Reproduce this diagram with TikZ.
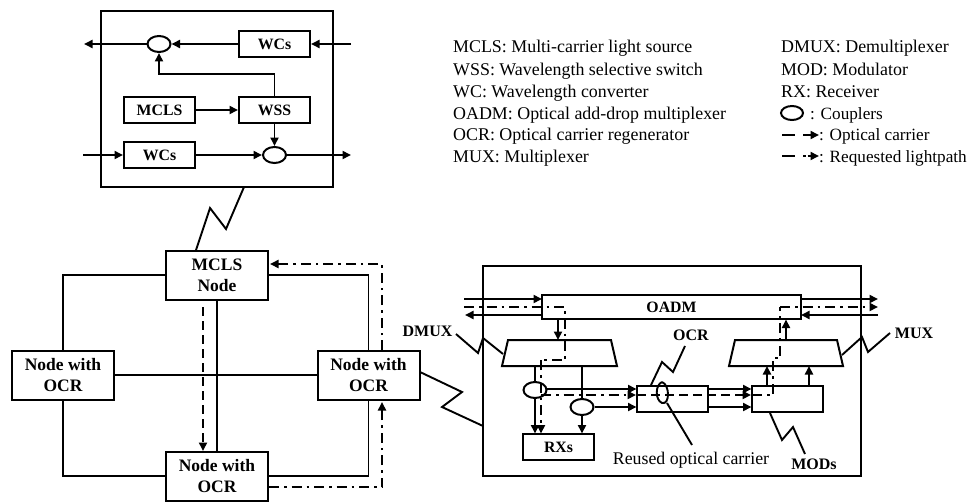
\documentclass[tikz,border=0pt]{standalone}
\usepackage{fontspec}
\setmainfont{Liberation Serif}
\usetikzlibrary{arrows.meta,shapes.geometric}
\tikzset{
  box/.style={draw,line width=2pt,inner sep=0pt,minimum width=#1,minimum height=26pt,
    font=\fontsize{15.8}{20}\selectfont\bfseries,align=center},
  box/.default=71pt,
  netnode/.style={box=102pt,minimum height=49pt,font=\fontsize{17.5}{21}\selectfont\bfseries},
  coupler/.style={draw,line width=2pt,ellipse,inner sep=0pt,minimum width=23pt,minimum height=16pt},
  trap/.style={line width=2pt,line join=miter},
  link/.style={line width=1.9pt},
  sig/.style={link,-{Triangle[length=8.5pt,width=8pt]}},
  carrier/.style={sig,dash pattern=on 9pt off 5pt},
  lightpath/.style={sig,dash pattern=on 10pt off 5pt on 2.5pt off 5pt},
  legtext/.style={anchor=base west,inner sep=0pt,font=\fontsize{17.9}{20}\selectfont},
  legsmall/.style={legtext,font=\fontsize{17.2}{20}\selectfont},
  tag/.style={inner sep=0pt,font=\fontsize{16}{18}\selectfont\bfseries}
}
\begin{document}
\begin{tikzpicture}[x=1pt,y=-1pt]
    \useasboundingbox (0,0) rectangle (969,503);

    % ------ ROADM detail, top ------
    \node[box=232pt,minimum height=176pt] (top) at (217,99) {};
    \node[box] (wcsUp) at (274.5,44) {WCs};
    \node[box] (mclsIn) at (159.5,110) {MCLS};
    \node[box] (wss) at (274.5,110) {WSS};
    \node[box] (wcsLow) at (159.5,155) {WCs};
    \node[coupler] (cplUp) at (159,44) {};
    \node[coupler] (cplLow) at (274.5,155) {};
    \coordinate (outUp) at (84,44);
    \coordinate (inUp) at (351,44);
    \coordinate (inLow) at (83,155);
    \coordinate (outLow) at (351,155);
    \coordinate (bendUp) at (274.5,74);

    \draw[sig] (cplUp.west) -- (outUp);
    \draw[sig] (wcsUp.west) -- (cplUp.east);
    \draw[sig] (inUp) -- (wcsUp.east);
    \draw[sig] (wss.north) -- (bendUp) -| (cplUp.south);
    \draw[sig] (mclsIn.east) -- (wss.west);
    \draw[sig] (wss.south) -- (cplLow.north);
    \draw[sig] (inLow) -- (wcsLow.west);
    \draw[sig] (wcsLow.east) -- (cplLow.west);
    \draw[sig] (cplLow.east) -- (outLow);

    % ------ Four node network ------
    \node[netnode] (mcls) at (217,275) {MCLS\\Node};
    \node[netnode] (left) at (63,375) {Node with\\OCR};
    \node[netnode] (right) at (368.5,375) {Node with\\OCR};
    \node[netnode] (bottom) at (217,476) {Node with\\OCR};

    \draw[link] (mcls.west) -| (left.north);
    \draw[link] (mcls.east) -| (right.north);
    \draw[link] (bottom.west) -| (left.south);
    \draw[link] (bottom.east) -| (right.south);
    \draw[link] (mcls.south) -- (bottom.north);
    \draw[link] (left.east) -- (right.west);

    \coordinate (dashTop) at (203,307);
    \coordinate (dashEnd) at (203,451);
    \coordinate (lpA) at (269,487);
    \coordinate (lpB) at (382,402);
    \coordinate (lpC) at (382,350);
    \coordinate (lpD) at (270,264);
    \draw[carrier] (dashTop) -- (dashEnd);
    \draw[lightpath] (lpA) -- (382,487) -- (lpB);
    \draw[lightpath] (lpC) -- (382,264) -- (lpD);

    % ------ Node with OCR detail, right ------
    \node[box=378pt,minimum height=210pt] (detail) at (672,371) {};
    \node[box=259pt,minimum height=24pt] (oadm) at (671.5,307) {OADM};
    \draw[trap] (508,340) -- (611,340) -- (617,366) -- (502,366) -- cycle;  % DMUX
    \draw[trap] (735,340) -- (837,340) -- (843,366) -- (729,366) -- cycle;  % MUX
    \node[coupler] (cplA) at (535,390) {};
    \node[coupler] (cplB) at (582,407) {};
    \node[box] (rxs) at (558.5,447) {RXs};
    \node[box] (ocr) at (672,399) {};
    \node[box] (mods) at (787.5,399) {};

    \coordinate (inA) at (464,299);   \coordinate (oadmA) at (542,299);
    \coordinate (oadmB) at (542,315); \coordinate (outB) at (465,315);
    \coordinate (oadmC) at (801,299); \coordinate (outC) at (878,299);
    \coordinate (inD) at (878,315);   \coordinate (oadmD) at (801,315);

    \draw[sig] (inA) -- (oadmA);
    \draw[sig] (oadmB) -- (outB);
    \draw[sig] (oadmC) -- (outC);
    \draw[sig] (inD) -- (oadmD);
    \draw[sig] (558,319) -- (558,340);
    \draw[sig] (786,340) -- (786,319.5);
    \draw[sig] (767,386) -- (767,366);
    \draw[sig] (809,386) -- (809,366);

    \draw[link] (535,366) -- (cplA.north);
    \draw[link] (582,366) -- (cplB.north);
    \draw[sig] (cplA.south) -- (535,433.5);
    \draw[sig] (cplB.south) -- (582,433.5);
    \draw[sig] (546,389) -- (636.5,389);
    \draw[sig] (cplB.east) -- (636.5,407);
    \draw[sig] (707,389) -- (751.5,389);
    \draw[sig] (707,407) -- (751.5,407);

    % requested lightpath and reused carrier
    \draw[lightpath,-] (464,307) -- (565,307) -- (565,360) -- (541,360);
    \draw[lightpath] (541,360) -- (541,433.5);
    \draw[lightpath] (541,395) -- (636,395);
    \draw[carrier] (637,395) -- (751,395);
    \draw[lightpath,-] (752,395) -- (773,395) -- (773,358) -- (780,358) -- (780,307);
    \draw[lightpath] (780,307) -- (878,307);

    % zigzags
    \coordinate (zTop) at (244,187);    \coordinate (zMcls) at (196,250);
    \coordinate (zRight) at (420,372);  \coordinate (zDetail) at (483,426);
    \coordinate (zDmuxA) at (456,334);  \coordinate (zDmuxB) at (503,354);
    \coordinate (zMuxA) at (842,355);   \coordinate (zMuxB) at (890,333);
    \coordinate (zOcrA) at (651,385);   \coordinate (zOcrB) at (685,346);
    \coordinate (zModA) at (770,413);   \coordinate (zModB) at (805,454);
    \draw[link] (zTop) -- (226,229) -- (210,208) -- (zMcls);
    \draw[link] (zRight) -- (462,392) -- (442,407) -- (zDetail);
    \draw[link] (zDmuxA) -- (478,353) -- (483,338) -- (zDmuxB);
    \draw[link] (zMuxA) -- (862,337) -- (868,352) -- (zMuxB);
    \draw[link] (zOcrA) -- (662,362) -- (673,372) -- (zOcrB);
    \draw[link] (zModA) -- (782,440) -- (793,427) -- (zModB);
    \draw[link] (662,382) .. controls (655,385) and (655,400) .. (662,403) .. controls (670,405) and (670,385) .. (662,382);
    \draw[link] (667,403) -- (692,445);

    \node[tag] (tagDmux) at (427.5,331) {DMUX};
    \node[tag] (tagOcr) at (691,335) {OCR};
    \node[tag] (tagMux) at (914,333) {MUX};
    \node[tag] (tagMods) at (814,464) {MODs};
    \node[inner sep=0pt,font=\fontsize{17.8}{20}\selectfont] (tagReused) at (691,460) {Reused optical carrier};

    % ------ Legend ------
    \node[legtext] (leg1) at (453,53) {MCLS: Multi-carrier light source};
    \node[legtext] (leg2) at (453,75) {WSS: Wavelength selective switch};
    \node[legtext] (leg3) at (453,97) {WC: Wavelength converter};
    \node[legtext] (leg4) at (453,119) {OADM: Optical add-drop multiplexer};
    \node[legtext] (leg5) at (453,140) {OCR: Optical carrier regenerator};
    \node[legtext] (leg6) at (453,162) {MUX: Multiplexer};
    \node[legtext] (leg7) at (781,53) {DMUX: Demultiplexer};
    \node[legtext] (leg8) at (781,75) {MOD: Modulator};
    \node[legtext] (leg9) at (781,97) {RX: Receiver};
    \node[coupler,minimum width=22pt,minimum height=14pt] (legCpl) at (792,113) {};
    \node[legsmall] (leg10) at (810,119) {: Couplers};
    \coordinate (legDa) at (782,135); \coordinate (legDb) at (819,135);
    \draw[carrier,dash pattern=on 13pt off 8pt on 30pt] (legDa) -- (legDb);
    \node[legsmall] (leg11) at (819,140) {: Optical carrier};
    \coordinate (legLa) at (782,156); \coordinate (legLb) at (819,156);
    \draw[lightpath,dash pattern=on 13pt off 8pt on 2.5pt off 2pt on 30pt] (legLa) -- (legLb);
    \node[legsmall] (leg12) at (819,162) {: Requested lightpath};
\end{tikzpicture}
\end{document}
